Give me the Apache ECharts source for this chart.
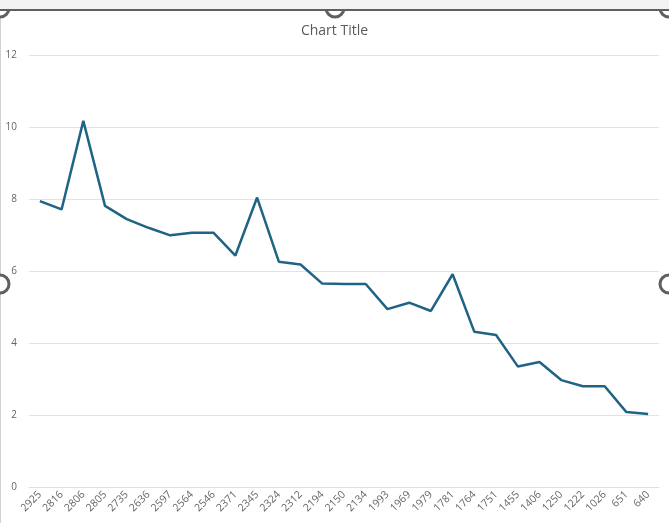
<!DOCTYPE html>
<html>
<head>
<meta charset="utf-8">
<script src="https://cdn.jsdelivr.net/npm/echarts@6/dist/echarts.min.js"></script>
<style>
  html, body { margin: 0; padding: 0; background: #fff; }
  #main { width: 669px; height: 523px; }
</style>
</head>
<body>
<div id="main"></div>
<script>
// categories
var categories = ['2925', '2816', '2806', '2805', '2735', '2636', '2597', '2564', '2546', '2371',
    '2345', '2324', '2312', '2194', '2150', '2134', '1993', '1969', '1979', '1781',
    '1764', '1751', '1455', '1406', '1250', '1222', '1026', '651', '640'];

// line values
var values = [7.94, 7.71, 10.17, 7.81, 7.44, 7.2, 6.99, 7.06, 7.06, 6.43,
    8.04, 6.26, 6.18, 5.65, 5.64, 5.64, 4.94, 5.12, 4.89, 5.91,
    4.31, 4.22, 3.35, 3.47, 2.97, 2.8, 2.8, 2.08, 2.03];

var yTicks = [0, 2, 4, 6, 8, 10, 12];

var myChart = echarts.init(document.getElementById('main'));

var handle = function (cx, cy) {
    return {
        type: 'circle',
        shape: { cx: cx, cy: cy, r: 9 },
        style: { fill: '#fff', stroke: '#5f5f5f', lineWidth: 3 },
        z: 10
    };
};

var option = {
    backgroundColor: '#fff',
    animation: false,
    title: {
        text: 'Chart Title',
        left: 'center',
        top: 19,
        textStyle: {
            fontFamily: 'Open Sans',
            fontSize: 14,
            fontWeight: 'normal',
            color: '#595959'
        }
    },
    grid: { left: 29, right: 10, top: 55, bottom: 36 },
    xAxis: {
        type: 'category',
        data: categories,
        boundaryGap: true,
        axisLine: { show: true, lineStyle: { color: '#e0e0e0' } },
        axisTick: { show: false },
        axisLabel: {
            interval: 0,
            rotate: 45,
            margin: 6,
            fontSize: 10.5,
            fontFamily: 'Open Sans',
            color: '#666666'
        }
    },
    yAxis: {
        type: 'value',
        min: yTicks[0],
        max: yTicks[yTicks.length - 1],
        interval: 2,
        axisLine: { show: false },
        axisTick: { show: false },
        splitLine: { lineStyle: { color: '#e3e3e3' } },
        axisLabel: {
            margin: 12,
            fontSize: 10,
            fontFamily: 'Open Sans',
            color: '#666666'
        }
    },
    series: [{
        type: 'line',
        data: values,
        symbol: 'none',
        lineStyle: { color: '#1f6385', width: 2.5 }
    }],
    graphic: [
        // spreadsheet strip and selection frame around the chart
        { type: 'rect', shape: { x: 0, y: 0, width: 669, height: 9 }, style: { fill: '#f3f3f3' }, z: 11 },
        { type: 'line', shape: { x1: 0, y1: 10, x2: 669, y2: 10 }, style: { stroke: '#5f5f5f', lineWidth: 2 }, z: 12 },
        { type: 'line', shape: { x1: 0.5, y1: 10, x2: 0.5, y2: 523 }, style: { stroke: '#d0d0d0', lineWidth: 1 }, z: 2 },
        handle(0, 8),
        handle(335, 8),
        handle(669, 8),
        handle(0, 284),
        handle(669, 284)
    ]
};

myChart.setOption(option);
</script>
</body>
</html>
